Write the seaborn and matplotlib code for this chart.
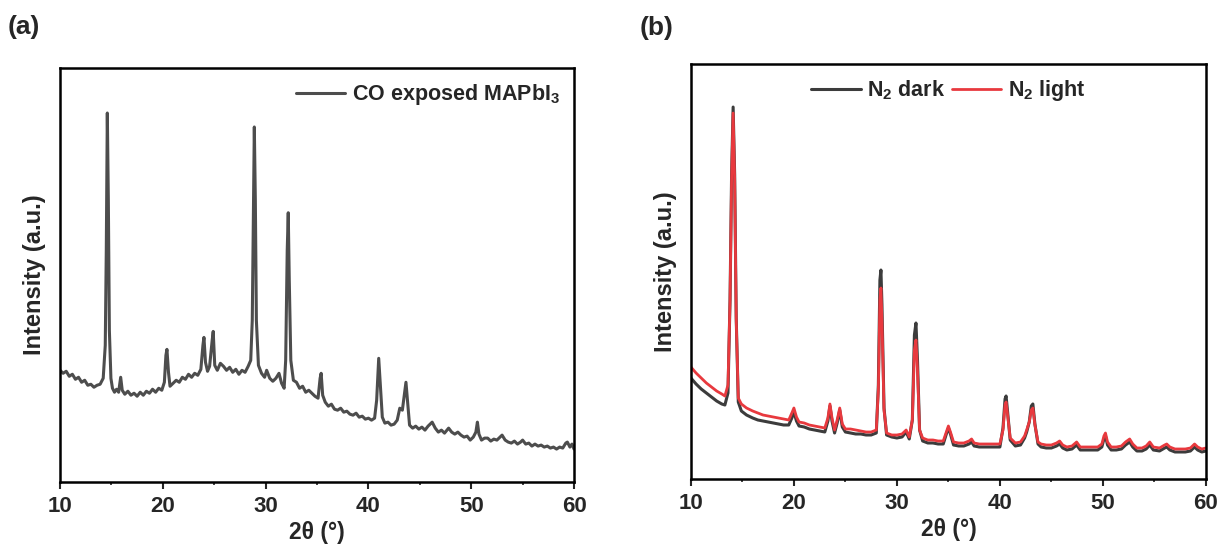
import numpy as np
import pandas as pd
import matplotlib
matplotlib.use('Agg')
import matplotlib.pyplot as plt
from matplotlib.ticker import MultipleLocator
import seaborn as sns

# (a) CO exposed MAPbI3 pattern, 2theta (deg) / intensity (a.u.)
two_theta_a = [10.0, 10.3, 10.6, 10.9, 11.2, 11.5, 11.8, 12.1, 12.4, 12.7, 13.0, 13.3, 13.6, 13.9,
               14.2, 14.4, 14.5, 14.6, 14.7, 14.8, 14.95, 15.1, 15.3, 15.5, 15.7, 15.9, 16.05, 16.3,
               16.6, 16.9, 17.2, 17.5, 17.8, 18.1, 18.4, 18.7, 19.0, 19.3, 19.6, 19.9, 20.15, 20.3,
               20.4, 20.55, 20.7, 21.0, 21.3, 21.6, 21.9, 22.2, 22.5, 22.8, 23.1, 23.4, 23.7, 23.9,
               24.0, 24.15, 24.35, 24.55, 24.8, 24.9, 25.05, 25.3, 25.6, 25.9, 26.2, 26.5, 26.8, 27.1,
               27.4, 27.7, 28.0, 28.3, 28.55, 28.7, 28.8, 28.9, 29.0, 29.1, 29.3, 29.6, 29.9, 30.1,
               30.4, 30.7, 31.0, 31.3, 31.55, 31.8, 31.95, 32.1, 32.2, 32.3, 32.45, 32.7, 33.0, 33.3,
               33.6, 33.9, 34.2, 34.5, 34.8, 35.1, 35.3, 35.4, 35.55, 35.8, 36.1, 36.4, 36.7, 37.0,
               37.3, 37.6, 37.9, 38.2, 38.5, 38.8, 39.1, 39.4, 39.7, 40.0, 40.3, 40.6, 40.8, 41.0,
               41.2, 41.35, 41.6, 41.9, 42.2, 42.5, 42.8, 43.05, 43.3, 43.55, 43.65, 43.8, 44.0, 44.3,
               44.6, 44.9, 45.2, 45.5, 45.8, 46.2, 46.5, 46.8, 47.1, 47.4, 47.8, 48.1, 48.4, 48.7,
               49.0, 49.3, 49.6, 49.9, 50.2, 50.45, 50.6, 50.75, 51.0, 51.3, 51.6, 51.9, 52.2, 52.5,
               52.8, 53.0, 53.3, 53.6, 53.9, 54.2, 54.5, 54.8, 55.0, 55.3, 55.6, 55.9, 56.2, 56.5,
               56.8, 57.1, 57.4, 57.7, 58.0, 58.3, 58.6, 58.9, 59.2, 59.35, 59.6, 59.8, 60.0]
co_exposed = [112, 109, 111, 106, 108, 103, 105, 100, 102, 97, 98, 95, 97, 98,
              104, 137, 232, 370, 282, 152, 104, 94, 90, 93, 90, 105, 92, 88,
              91, 87, 89, 86, 90, 87, 91, 89, 93, 90, 94, 92, 100, 127,
              133, 110, 96, 99, 102, 100, 105, 103, 108, 105, 109, 107, 113, 137,
              145, 120, 111, 116, 142, 151, 117, 112, 119, 116, 112, 115, 110, 113,
              108, 112, 110, 116, 122, 162, 262, 356, 282, 162, 117, 109, 105, 112,
              104, 101, 104, 109, 99, 94, 122, 232, 270, 202, 122, 102, 100, 94,
              96, 90, 92, 89, 86, 84, 104, 109, 87, 80, 76, 78, 73, 72,
              74, 70, 71, 68, 67, 69, 65, 66, 63, 64, 62, 64, 82, 124,
              90, 65, 59, 60, 57, 58, 62, 74, 72, 92, 100, 82, 57, 54,
              56, 53, 55, 52, 56, 60, 54, 50, 52, 49, 54, 50, 48, 50,
              47, 45, 46, 42, 45, 50, 60, 48, 42, 44, 44, 41, 43, 42,
              45, 47, 42, 40, 39, 41, 38, 40, 42, 38, 39, 36, 38, 36,
              37, 35, 36, 34, 35, 33, 35, 34, 39, 40, 35, 38, 33]

# (b) N2 dark / N2 light patterns
two_theta_b = [10.0, 10.5, 11.0, 11.5, 12.0, 12.5, 13.0, 13.3, 13.6, 13.8, 13.95, 14.1, 14.25, 14.4,
               14.6, 14.9, 15.4, 16.0, 16.5, 17.0, 17.5, 18.0, 18.5, 19.0, 19.5, 19.8, 20.0, 20.25,
               20.5, 21.0, 21.5, 22.0, 22.5, 23.0, 23.3, 23.5, 23.7, 23.95, 24.2, 24.45, 24.7, 25.0,
               25.5, 26.0, 26.5, 27.0, 27.5, 28.0, 28.2, 28.35, 28.45, 28.55, 28.75, 29.0, 29.5, 30.0,
               30.5, 30.9, 31.2, 31.5, 31.7, 31.85, 32.0, 32.2, 32.5, 33.0, 33.5, 34.0, 34.5, 34.8,
               35.0, 35.2, 35.5, 36.0, 36.5, 37.0, 37.25, 37.5, 38.0, 38.5, 39.0, 39.5, 40.0, 40.3,
               40.5, 40.6, 40.75, 41.0, 41.5, 42.0, 42.4, 42.6, 42.85, 43.05, 43.2, 43.4, 43.7, 44.0,
               44.5, 45.0, 45.5, 45.8, 46.1, 46.5, 47.0, 47.45, 47.8, 48.5, 49.0, 49.5, 49.9, 50.1,
               50.25, 50.45, 50.8, 51.3, 51.8, 52.2, 52.6, 52.9, 53.3, 53.8, 54.2, 54.55, 54.9, 55.5,
               56.0, 56.2, 56.5, 57.0, 57.5, 58.0, 58.5, 58.9, 59.2, 59.6, 60.0]
n2_light = [112, 106, 101, 96, 92, 88, 85, 83, 94, 179, 299, 366, 299, 159,
            81, 75, 71, 68, 66, 64, 63, 62, 61, 60, 59, 66, 71, 62,
            57, 56, 54, 53, 52, 51, 61, 75, 61, 49, 59, 71, 55, 50,
            50, 49, 48, 47, 47, 49, 89, 179, 191, 159, 69, 46, 44, 44,
            45, 49, 42, 59, 129, 139, 109, 49, 41, 39, 39, 38, 38, 47,
            53, 47, 37, 36, 36, 38, 40, 36, 35, 35, 35, 35, 35, 49,
            74, 77, 64, 41, 36, 37, 43, 49, 57, 69, 71, 54, 37, 35,
            34, 34, 36, 38, 34, 32, 33, 37, 32, 32, 32, 32, 35, 43,
            46, 37, 32, 32, 33, 37, 40, 35, 31, 31, 33, 37, 32, 31,
            34, 35, 32, 30, 30, 30, 31, 35, 32, 30, 31]
n2_dark = [101, 95, 90, 86, 82, 78, 75, 74, 86, 179, 304, 372, 304, 161,
           77, 68, 64, 61, 59, 58, 57, 56, 55, 54, 54, 61, 67, 58,
           53, 52, 50, 49, 48, 47, 58, 73, 58, 46, 56, 69, 52, 47,
           46, 45, 45, 44, 44, 46, 94, 199, 209, 174, 71, 44, 42, 41,
           42, 47, 40, 59, 144, 156, 119, 49, 38, 36, 36, 35, 35, 45,
           51, 45, 34, 33, 33, 35, 37, 33, 32, 32, 32, 32, 32, 51,
           80, 83, 67, 39, 33, 34, 41, 47, 57, 73, 75, 55, 35, 32,
           31, 31, 33, 35, 31, 29, 30, 34, 29, 29, 29, 29, 32, 40,
           43, 34, 29, 29, 30, 34, 37, 32, 28, 28, 30, 34, 29, 28,
           31, 32, 29, 27, 27, 27, 28, 32, 29, 27, 28]

sns.set_style('ticks')
plt.rcParams['font.family'] = ['Liberation Sans', 'DejaVu Sans']
plt.rcParams['font.weight'] = 'bold'
plt.rcParams['axes.labelweight'] = 'bold'
plt.rcParams['mathtext.fontset'] = 'custom'
plt.rcParams['mathtext.rm'] = 'Liberation Sans:bold'
plt.rcParams['mathtext.bf'] = 'Liberation Sans:bold'
plt.rcParams['mathtext.default'] = 'bf'

fig = plt.figure(figsize=(12.25, 5.54), dpi=100)
ax_a = fig.add_axes([0.049, 0.130, 0.4196, 0.747])
ax_b = fig.add_axes([0.564, 0.1354, 0.4204, 0.749])

df_a = pd.DataFrame({'2theta': two_theta_a, 'I': co_exposed})
df_b = pd.DataFrame({'2theta': two_theta_b, 'dark': n2_dark, 'light': n2_light})

sns.lineplot(data=df_a, x='2theta', y='I', ax=ax_a, color='#4d4d4d', lw=2.2,
             label='CO exposed MAPbI$_3$')
sns.lineplot(data=df_b, x='2theta', y='dark', ax=ax_b, color='#3c3c3c', lw=2.2,
             label='N$_2$ dark')
sns.lineplot(data=df_b, x='2theta', y='light', ax=ax_b, color='#e8393e', lw=2.0,
             label='N$_2$ light')

for ax in (ax_a, ax_b):
    ax.set_xlim(10, 60)
    ax.set_ylim(0, 415)
    ax.xaxis.set_major_locator(MultipleLocator(10))
    ax.xaxis.set_minor_locator(MultipleLocator(5))
    ax.tick_params(axis='x', which='major', direction='out', length=5, width=1.5,
                   labelsize=16, pad=5)
    ax.tick_params(axis='x', which='minor', direction='out', length=2.5, width=1.2)
    ax.tick_params(axis='y', left=False, labelleft=False)
    for s in ax.spines.values():
        s.set_visible(True)
        s.set_linewidth(1.8)
        s.set_color('black')
    ax.set_xlabel('2θ (°)', fontsize=16.5, labelpad=3)
    ax.set_ylabel('Intensity (a.u.)', fontsize=17, labelpad=10)

ax_a.legend(loc='upper right', frameon=False, fontsize=15.5, handlelength=2.3,
            handletextpad=0.3, borderaxespad=0.25)
ax_b.legend(loc='upper center', ncol=2, frameon=False, fontsize=15.5, handlelength=2.3,
            handletextpad=0.3, columnspacing=0.3, borderaxespad=0.25)

fig.text(0.006, 1 - 27 / 554, '(a)', fontsize=19, fontweight='bold', va='center')
fig.text(0.5225, 1 - 28 / 554, '(b)', fontsize=19, fontweight='bold', va='center')

fig.savefig('out.png', dpi=100)
